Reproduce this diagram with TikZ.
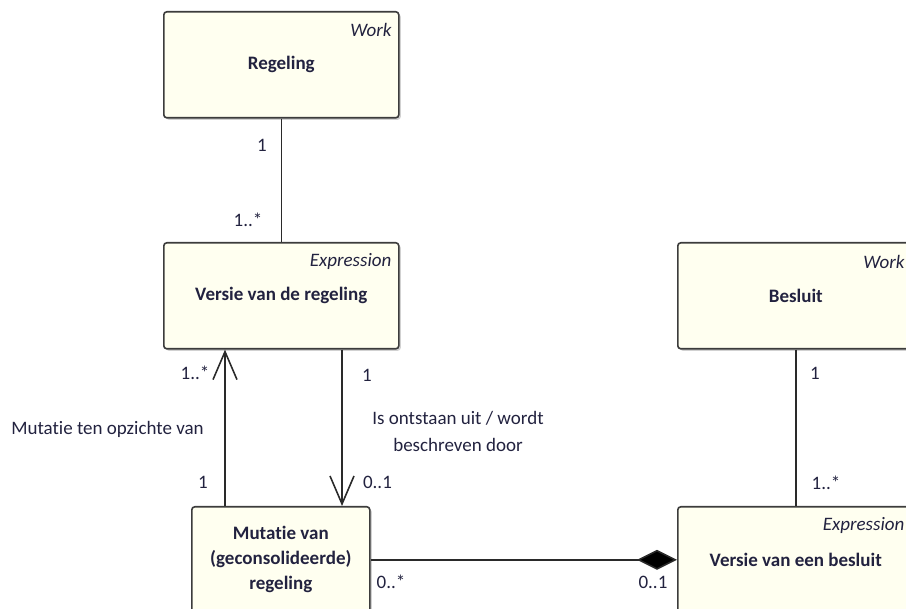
\documentclass[tikz,border=0pt]{standalone}
\usepackage{fontspec}
\setmainfont{Carlito}[Ligatures=NoCommon]
\usetikzlibrary{arrows.meta,calc,shadows}

\definecolor{boxfill}{HTML}{FFFFF0}
\definecolor{boxline}{HTML}{3C3C3C}
\definecolor{ink}{HTML}{22223F}
\definecolor{wire}{HTML}{2A2A2A}

\tikzset{
  umlbox/.style={draw=boxline, fill=boxfill, line width=1.6pt, rounded corners=3pt,
    anchor=north west, inner sep=0pt, minimum width=235pt, minimum height=106pt,
    align=center, text=ink, font=\fontsize{19}{25}\selectfont\bfseries,
    drop shadow={shadow xshift=2pt, shadow yshift=-2pt, fill=black, opacity=0.18}},
  stereo/.style={anchor=east, inner sep=0pt, text=ink, font=\fontsize{19}{24}\selectfont\itshape},
  mult/.style={inner sep=0pt, text=ink, font=\fontsize{19}{24}\selectfont},
  rolelbl/.style={inner sep=0pt, text=ink, align=center, font=\fontsize{19}{27}\selectfont},
  conn/.style={draw=wire, line width=1.6pt},
  navarrow/.style={-{Straight Barb[length=28pt,width=24pt]}},
  composite/.style={-{Diamond[length=40pt,width=20pt,fill=black]}}
}

\begin{document}
\begin{tikzpicture}[x=1pt,y=-1pt]
  \useasboundingbox (0,0) rectangle (906,609);
  \clip (0,0) rectangle (906,609);

  % classes
  \node[umlbox] (reg) at (163,11) {Regeling};
  \node[umlbox] (vr)  at (163,242) {Versie van de regeling};
  \node[umlbox, minimum width=236pt] (bes) at (677,242) {Besluit};
  \node[umlbox, minimum width=178pt] (mut) at (191,506) {Mutatie van\\(geconsolideerde)\\regeling};
  \node[umlbox, minimum width=236pt] (vb)  at (677,506) {Versie van een besluit};

  % stereotypes
  \node[stereo] (regS) at ($(reg.north east)+(-8,19)$) {Work};
  \node[stereo] (vrS)  at ($(vr.north east)+(-8,19)$) {Expression};
  \node[stereo] (besS) at ($(bes.north east)+(-10,20)$) {Work};
  \node[stereo] (vbS)  at ($(vb.north east)+(-10,19)$) {Expression};

  % Regeling -- Versie van de regeling
  \draw[conn] (reg) -- (vr);
  \node[mult] (m1) at (262,145) {1};
  \node[mult] (m2) at (248,220) {1..*};

  % Mutatie ten opzichte van
  \coordinate (mL) at ($(mut.north west)+(34,0)$);
  \draw[conn, navarrow] (mL) -- (mL |- vr.south);
  \node[mult] (m3) at (195,373) {1..*};
  \node[mult] (m4) at (203,482) {1};
  \node[rolelbl] (lab1) at (107.5,429) {Mutatie ten opzichte van};

  % Is ontstaan uit / wordt beschreven door
  \coordinate (mR) at ($(mut.north west)+(151,0)$);
  \draw[conn, navarrow] (mR |- vr.south) -- (mR);
  \node[mult] (m5) at (367,375) {1};
  \node[mult] (m6) at (377.5,482) {0..1};
  \node[rolelbl] (lab2) at (458,431.5) {Is ontstaan uit / wordt\\beschreven door};

  % Besluit -- Versie van een besluit
  \draw[conn] (bes) -- (vb);
  \node[mult] (m9)  at (815,373) {1};
  \node[mult] (m10) at (826,483) {1..*};

  % composition
  \draw[conn, composite] (mut) -- (vb);
  \node[mult] (m7) at (391,582) {0..*};
  \node[mult] (m8) at (653,582) {0..1};
\end{tikzpicture}
\end{document}
